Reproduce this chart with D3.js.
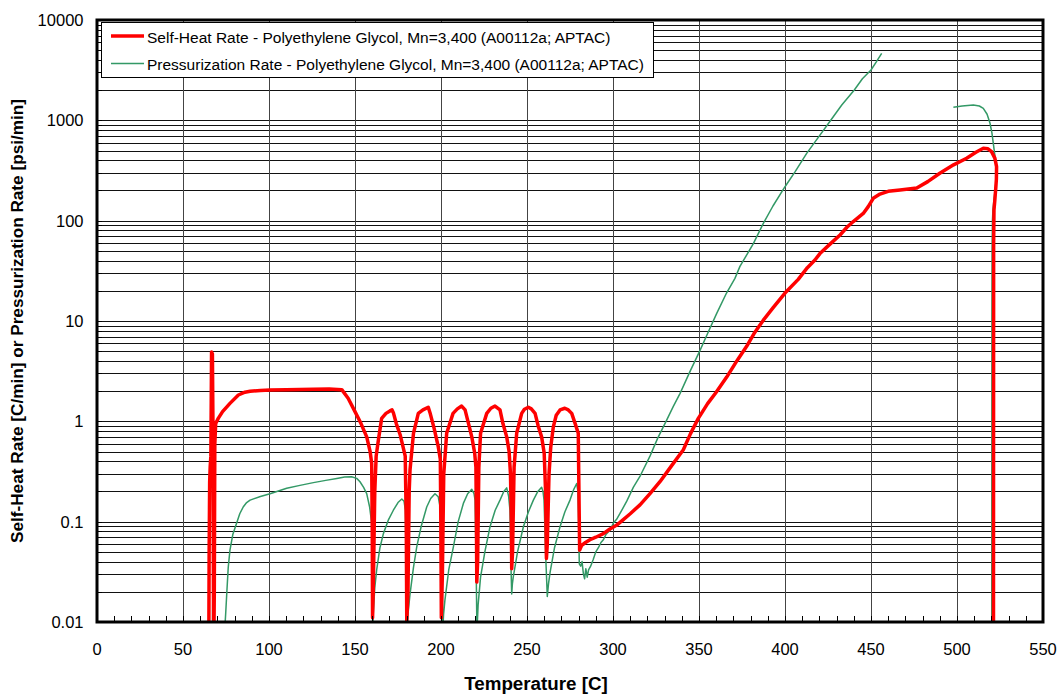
<!DOCTYPE html>
<html>
<head>
<meta charset="utf-8">
<script src="https://cdn.jsdelivr.net/npm/d3@7"></script>
<style>
  html, body { margin: 0; padding: 0; background: #fff; }
  svg { display: block; font-family: Arial, "Liberation Sans", sans-serif; }
</style>
</head>
<body>
<svg id="chart" width="1060" height="698"></svg>
<script>
// Temperature [C] and self-heat rate [C/min]
const selfHeatT = [65.0, 65.2, 65.5, 65.8, 66.2, 66.6, 67.1, 67.4, 67.7, 67.9, 68.2, 68.5, 69.0, 70.5, 73, 77.3, 82.2, 86, 89, 95, 100.6, 110, 125.8, 135, 142.3, 146, 150, 153.5, 156.8, 158.8, 159.7, 160.0, 160.2, 160.6, 161.5, 162.3, 163.6, 165.5, 168, 170.3, 171.5, 172.3, 174, 176.2, 178, 179.2, 179.8, 180.1, 180.8, 181.5, 182, 184, 186.8, 189.5, 192.6, 193.6, 196, 198.4, 199.6, 199.9, 200.2, 200.8, 201.6, 203.3, 207, 209.5, 212, 214, 216, 217.9, 219.6, 220.3, 220.6, 220.8, 221.3, 222, 223, 226.6, 229, 231.4, 234.3, 236, 238.2, 239.6, 240.4, 240.9, 241.1, 241.6, 242.5, 244, 246.9, 248.5, 250.8, 252.5, 254.7, 256.5, 258.5, 260, 260.8, 261.3, 261.8, 262.8, 263.8, 265.3, 267, 269.2, 272, 274, 276, 278, 279.8, 280.2, 280.6, 281.8, 284, 286.6, 290, 294.4, 298, 302, 306, 310, 315.7, 321.5, 327.3, 334, 340.9, 345, 349.6, 355, 360, 366.1, 372, 377.7, 382, 387.4, 393, 400, 407.7, 413, 417.4, 420.3, 426, 432, 436, 439.7, 445.5, 448.4, 451.3, 455.2, 460, 466.9, 476.6, 483, 490, 498, 505.6, 511, 515.3, 518, 520.1, 522, 523, 522.9, 522.6, 522.0, 521.5, 521.3, 521.2];
const selfHeatRate = [0.005, 0.05, 0.25, 0.35, 0.45, 4.9, 4.7, 1.0, 0.02, 0.005, 0.02, 0.6, 0.95, 1.07, 1.25, 1.51, 1.83, 1.95, 1.99, 2.03, 2.05, 2.07, 2.09, 2.1, 2.07, 1.7, 1.25, 0.95, 0.7, 0.5, 0.38, 0.1, 0.011, 0.02, 0.2, 0.45, 0.65, 1.07, 1.2, 1.27, 1.3, 1.22, 0.95, 0.74, 0.55, 0.45, 0.1, 0.010, 0.02, 0.2, 0.33, 0.76, 1.2, 1.3, 1.38, 1.22, 0.85, 0.56, 0.42, 0.1, 0.011, 0.03, 0.3, 0.76, 1.2, 1.33, 1.42, 1.3, 0.95, 0.7, 0.48, 0.35, 0.1, 0.025, 0.04, 0.35, 0.76, 1.2, 1.35, 1.42, 1.3, 0.95, 0.7, 0.5, 0.3, 0.1, 0.034, 0.05, 0.35, 0.76, 1.2, 1.32, 1.38, 1.33, 1.2, 0.9, 0.7, 0.48, 0.2, 0.043, 0.06, 0.3, 0.55, 0.88, 1.15, 1.3, 1.35, 1.3, 1.2, 0.95, 0.76, 0.2, 0.052, 0.058, 0.062, 0.066, 0.07, 0.076, 0.084, 0.092, 0.105, 0.12, 0.147, 0.19, 0.25, 0.36, 0.52, 0.75, 1.07, 1.5, 1.95, 2.76, 4.0, 5.6, 7.5, 10.2, 13.5, 19, 26, 34, 40.5, 47, 58, 72, 86, 98, 118, 138, 167, 184, 196, 202, 212, 245, 297, 360, 419, 480, 526, 520, 487, 420, 345, 260, 218, 160, 128, 60, 0.005];

// Temperature [C] and pressurization rate [psi/min]; null marks a gap in the record
const pressT = [67.1, 67.3, 67.5, 74.2, 74.8, 75.5, 76.3, 77.3, 79, 81.2, 83, 85, 87, 89, 95, 100.6, 110.3, 118, 125.8, 133, 139.4, 144, 148, 151, 152.9, 155, 156.8, 158.5, 159.7, 160.1, 160.3, 160.6, 161.5, 162.6, 164.5, 166.5, 169.5, 172.3, 175, 177.2, 178.5, 179.3, 179.8, 180.1, 181, 182, 184, 185.9, 188.5, 191.7, 194, 196.5, 198.4, 199.5, 200.4, 200.7, 201, 201.5, 202.3, 204.5, 207.2, 210, 213, 215.5, 217.9, 219.2, 219.8, 220.4, 220.9, 221.6, 223, 225.5, 228.5, 231.5, 234.3, 236.5, 238.2, 239.3, 240.1, 240.8, 241.1, 241.5, 242, 244.5, 247.9, 250.8, 253.7, 256.3, 258.5, 259.3, 259.9, 261, 261.8, 262.5, 263.4, 266, 269.2, 272, 275, 277.2, 278.9, 279.6, 280, 280.4, 281.2, 282, 282.8, 283.5, 284.2, 285, 285.8, 287, 288.5, 290, 291.5, 293, 294.4, 296, 298.3, 300.2, 302, 304, 308, 311.8, 316, 321.5, 326, 331.2, 335, 339, 345, 350.6, 355, 360.3, 366, 370.9, 373.8, 381.6, 387.4, 393, 400, 406, 412.6, 420, 426.7, 433, 440.3, 445, 450, 453, 456.2, 477, 497.9, 503, 509.5, 513, 515.3, 517.5, 519.2, 520.3, 521.1, 522, 522.8, 523, 522.6, 522, 521.4, 520.9, 520.6, 520.4, 520.3, 520.2];
const pressRate = [0.008, 0.0165, 0.008, 0.008, 0.012, 0.02, 0.035, 0.052, 0.075, 0.097, 0.12, 0.14, 0.155, 0.164, 0.178, 0.19, 0.215, 0.23, 0.245, 0.258, 0.27, 0.278, 0.28, 0.27, 0.25, 0.22, 0.19, 0.14, 0.097, 0.03, 0.008, 0.012, 0.022, 0.033, 0.055, 0.076, 0.105, 0.13, 0.155, 0.168, 0.16, 0.13, 0.03, 0.008, 0.013, 0.019, 0.035, 0.056, 0.09, 0.14, 0.17, 0.19, 0.177, 0.14, 0.096, 0.03, 0.008, 0.012, 0.0166, 0.033, 0.056, 0.1, 0.152, 0.19, 0.21, 0.19, 0.164, 0.04, 0.008, 0.015, 0.028, 0.05, 0.089, 0.13, 0.164, 0.2, 0.217, 0.18, 0.13, 0.03, 0.019, 0.024, 0.028, 0.05, 0.089, 0.125, 0.164, 0.2, 0.22, 0.2, 0.164, 0.04, 0.018, 0.024, 0.031, 0.055, 0.089, 0.125, 0.164, 0.21, 0.24, 0.2, 0.1, 0.038, 0.036, 0.04, 0.03, 0.027, 0.034, 0.028, 0.033, 0.036, 0.042, 0.05, 0.055, 0.062, 0.066, 0.075, 0.082, 0.097, 0.105, 0.12, 0.16, 0.22, 0.29, 0.45, 0.68, 1.03, 1.4, 1.9, 3.2, 5.1, 7.5, 11.9, 19, 26.6, 35, 59, 94, 140, 218, 310, 469, 700, 1007, 1420, 2006, 2600, 3175, 3800, 4660, null, 1350, 1390, 1423, 1390, 1318, 1150, 934, 750, 590, 450, 330, 297, 240, 190, 155, 128, 100, 50, 10, 0.005];

const xTicks = [0, 50, 100, 150, 200, 250, 300, 350, 400, 450, 500, 550];
const yTicks = [0.01, 0.1, 1, 10, 100, 1000, 10000];
const yTickLabels = ["0.01", "0.1", "1", "10", "100", "1000", "10000"];

const seriesNames = [
  "Self-Heat Rate - Polyethylene Glycol, Mn=3,400 (A00112a; APTAC)",
  "Pressurization Rate - Polyethylene Glycol, Mn=3,400 (A00112a; APTAC)"
];
const xTitle = "Temperature [C]";
const yTitle = "Self-Heat Rate [C/min] or Pressurization Rate [psi/min]";

const svg = d3.select("#chart");
const plotL = 97, plotR = 1043, plotT = 20, plotB = 622;

const x = d3.scaleLinear().domain([0, 550]).range([plotL, plotR]);
const y = d3.scaleLog().domain([0.01, 10000]).range([plotB, plotT]);

// grid: every 1..9 within each decade, and every 50 degrees
const minorY = [];
for (let e = -2; e < 4; e++) for (let m = 1; m < 10; m++) minorY.push(m * Math.pow(10, e));
minorY.push(10000);

const grid = svg.append("g").attr("shape-rendering", "crispEdges");
grid.selectAll("line.h").data(minorY).join("line")
  .attr("x1", plotL).attr("x2", plotR)
  .attr("y1", d => Math.round(y(d)) + 0.5).attr("y2", d => Math.round(y(d)) + 0.5)
  .attr("stroke", "#111").attr("stroke-width", 1);
grid.selectAll("line.v").data(xTicks).join("line")
  .attr("y1", plotT).attr("y2", plotB)
  .attr("x1", d => Math.round(x(d)) + 0.5).attr("x2", d => Math.round(x(d)) + 0.5)
  .attr("stroke", "#444").attr("stroke-width", 1);

// clipped data lines
svg.append("clipPath").attr("id", "plotClip")
  .append("rect").attr("x", plotL).attr("y", plotT).attr("width", plotR - plotL).attr("height", plotB - plotT);

const line = d3.line()
  .defined(d => d[1] !== null)
  .x(d => x(d[0]))
  .y(d => y(Math.max(d[1], 0.001)));

const plot = svg.append("g").attr("clip-path", "url(#plotClip)");
plot.append("path")
  .datum(pressT.map((t, i) => [t, pressRate[i]]))
  .attr("d", line)
  .attr("fill", "none").attr("stroke", "#339966").attr("stroke-width", 1.5)
  .attr("stroke-linejoin", "round");
plot.append("path")
  .datum(selfHeatT.map((t, i) => [t, selfHeatRate[i]]))
  .attr("d", line)
  .attr("fill", "none").attr("stroke", "#ff0000").attr("stroke-width", 3.5)
  .attr("stroke-linejoin", "round");

// legend
const lg = svg.append("g");
lg.append("rect").attr("x", 101.5).attr("y", 22.5).attr("width", 552).attr("height", 55)
  .attr("fill", "#fff").attr("stroke", "#000").attr("stroke-width", 1);
const legendColors = ["#ff0000", "#339966"];
const legendWidths = [3.5, 1.5];
seriesNames.forEach((name, i) => {
  const cy = 36 + i * 27.5;
  lg.append("line").attr("x1", 111).attr("x2", 144).attr("y1", cy).attr("y2", cy)
    .attr("stroke", legendColors[i]).attr("stroke-width", legendWidths[i]);
  lg.append("text").attr("x", 147).attr("y", cy + 6.5)
    .attr("font-size", 15.5).attr("fill", "#000").text(name);
});

// axis ticks (inside) and labels
const axisG = svg.append("g").attr("shape-rendering", "crispEdges");
axisG.selectAll("line.xm").data(d3.range(0, 551, 10)).join("line")
  .attr("x1", d => Math.round(x(d)) + 0.5).attr("x2", d => Math.round(x(d)) + 0.5)
  .attr("y1", plotB).attr("y2", plotB - 6)
  .attr("stroke", "#000");
axisG.selectAll("line.ym").data(minorY).join("line")
  .attr("y1", d => Math.round(y(d)) + 0.5).attr("y2", d => Math.round(y(d)) + 0.5)
  .attr("x1", plotL).attr("x2", plotL + 5)
  .attr("stroke", "#000");

svg.append("g").selectAll("text").data(xTicks).join("text")
  .attr("x", d => x(d)).attr("y", 655)
  .attr("text-anchor", "middle").attr("font-size", 16.5).attr("fill", "#000")
  .text(d => d);
svg.append("g").selectAll("text").data(yTicks).join("text")
  .attr("x", 83.5).attr("y", d => y(d) + 6)
  .attr("text-anchor", "end").attr("font-size", 16.5).attr("fill", "#000")
  .text((d, i) => yTickLabels[i]);

// frame
svg.append("rect").attr("x", plotL).attr("y", plotT).attr("width", plotR - plotL).attr("height", plotB - plotT)
  .attr("fill", "none").attr("stroke", "#000").attr("stroke-width", 3);

// titles
svg.append("text").attr("x", 536).attr("y", 690)
  .attr("text-anchor", "middle").attr("font-size", 18.8).attr("font-weight", "bold").text(xTitle);
svg.append("text").attr("transform", `translate(23, ${(plotT + plotB) / 2}) rotate(-90)`)
  .attr("text-anchor", "middle").attr("font-size", 17.2).attr("font-weight", "bold").text(yTitle);
</script>
</body>
</html>
